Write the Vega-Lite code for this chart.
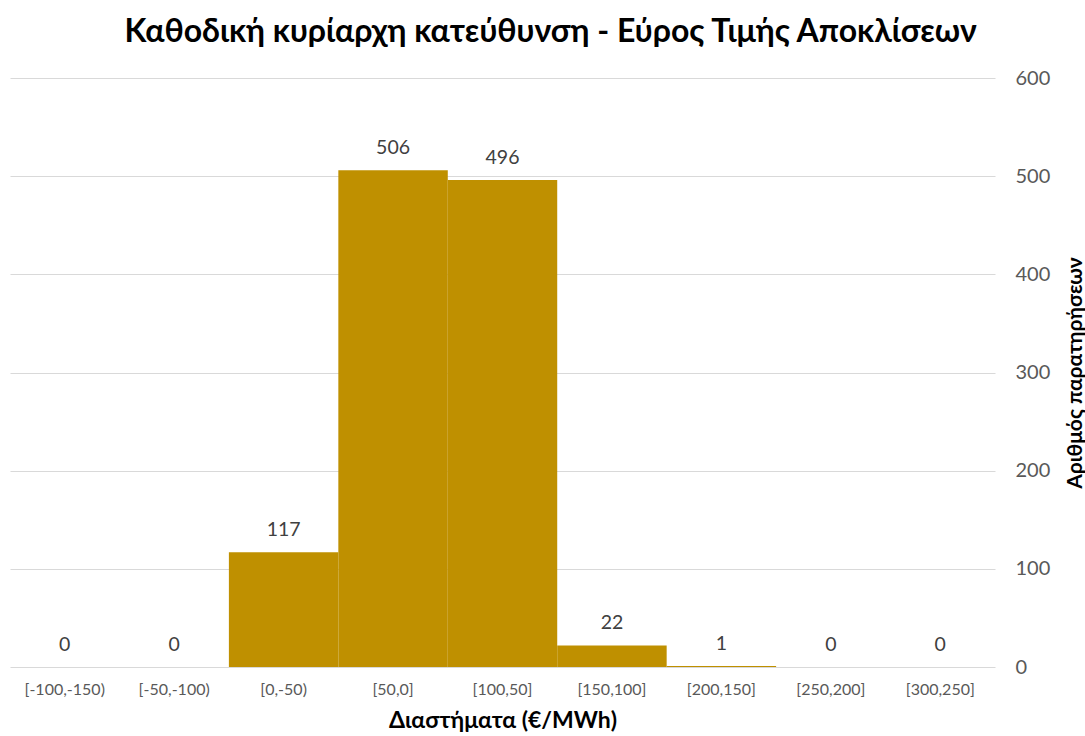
{
  "$schema": "https://vega.github.io/schema/vega-lite/v6.json",
  "autosize": "none",
  "width": 985,
  "height": 589,
  "padding": {"left": 10, "top": 78, "right": 90, "bottom": 69},
  "background": "white",
  "title": {
    "text": "Καθοδική κυρίαρχη κατεύθυνση - Εύρος  Τιμής Αποκλίσεων",
    "font": "Lato",
    "fontSize": 32,
    "fontWeight": "bold",
    "color": "#000000",
    "anchor": "middle",
    "dx": 48,
    "offset": 19
  },
  "data": {
    "values": [
      {"bin": "[-100,-150)", "count": 0},
      {"bin": "[-50,-100)", "count": 0},
      {"bin": "[0,-50)", "count": 117},
      {"bin": "[50,0]", "count": 506},
      {"bin": "[100,50]", "count": 496},
      {"bin": "[150,100]", "count": 22},
      {"bin": "[200,150]", "count": 1},
      {"bin": "[250,200]", "count": 0},
      {"bin": "[300,250]", "count": 0}
    ]
  },
  "encoding": {
    "x": {
      "field": "bin",
      "type": "nominal",
      "sort": null,
      "scale": {"paddingInner": 0, "paddingOuter": 0},
      "axis": {
        "title": "Διαστήματα (€/MWh)",
        "titleFont": "Lato",
        "titleFontSize": 23,
        "titleFontWeight": "bold",
        "titleColor": "#000000",
        "titlePadding": 12,
        "labelFont": "Lato",
        "labelFontSize": 16,
        "labelColor": "#595959",
        "labelAngle": 0,
        "labelPadding": 14,
        "ticks": false,
        "domain": false,
        "grid": false
      }
    },
    "y": {
      "field": "count",
      "type": "quantitative",
      "scale": {"domain": [0, 600]},
      "axis": {
        "orient": "right",
        "values": [0, 100, 200, 300, 400, 500, 600],
        "title": "Αριθμός παρατηρήσεων",
        "titleFont": "Lato",
        "titleFontSize": 21,
        "titleFontWeight": "bold",
        "titleColor": "#000000",
        "titleAngle": 270,
        "titlePadding": 36,
        "labelFont": "Lato",
        "labelFontSize": 20,
        "labelColor": "#595959",
        "labelPadding": 20,
        "ticks": false,
        "domain": false,
        "grid": true,
        "gridColor": "#d9d9d9",
        "gridWidth": 1
      }
    }
  },
  "layer": [
    {"mark": {"type": "bar", "color": "#BF9000"}},
    {
      "mark": {"type": "text", "baseline": "middle", "dy": -22, "font": "Lato", "fontSize": 19.5, "color": "#404040"},
      "encoding": {"text": {"field": "count", "type": "quantitative"}}
    }
  ],
  "config": {"view": {"stroke": null}}
}
